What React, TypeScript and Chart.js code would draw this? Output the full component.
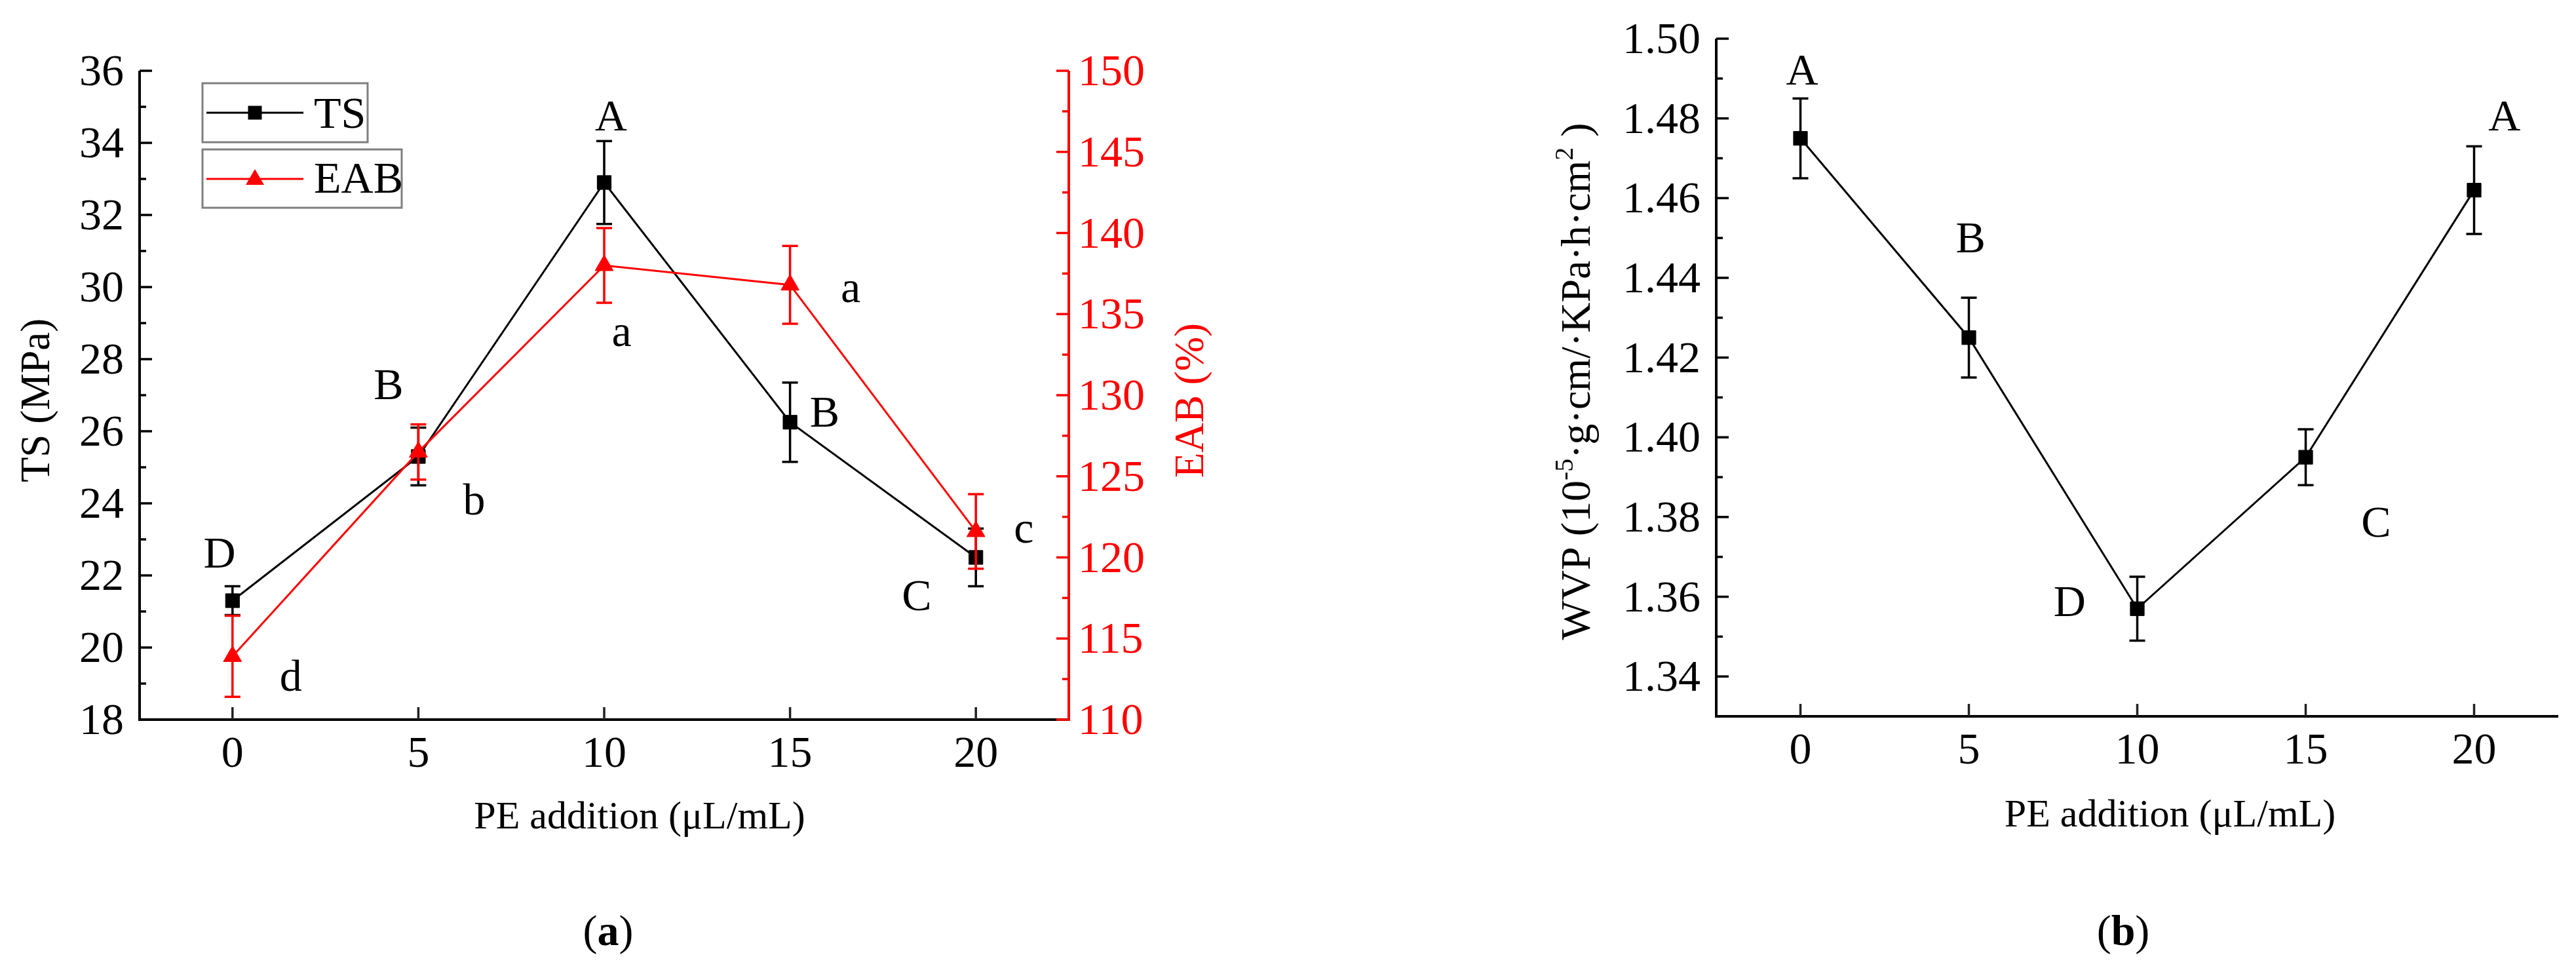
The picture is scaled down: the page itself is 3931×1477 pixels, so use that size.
import React, { useEffect, useRef } from "react";
import { Chart, registerables } from "chart.js";

Chart.register(...registerables);

// ---------------- data ----------------
const doses = [0, 5, 10, 15, 20];
const tsMean = [21.3, 25.3, 32.9, 26.25, 22.5];
const tsErr = [0.4, 0.8, 1.15, 1.1, 0.8];
const eabMean = [113.9, 126.5, 138.0, 136.8, 121.6];
const eabErr = [2.5, 1.7, 2.3, 2.4, 2.3];
const wvpMean = [1.475, 1.425, 1.357, 1.395, 1.462];
const wvpErr = [0.01, 0.01, 0.008, 0.007, 0.011];

const xTicks = [0, 5, 10, 15, 20];
const tsTicks = [18, 20, 22, 24, 26, 28, 30, 32, 34, 36];
const eabTicks = [110, 115, 120, 125, 130, 135, 140, 145, 150];
const wvpTicks = [1.34, 1.36, 1.38, 1.4, 1.42, 1.44, 1.46, 1.48, 1.5];

const tsLetters = ["D", "B", "A", "B", "C"];
const eabLetters = ["d", "b", "a", "a", "c"];
const wvpLetters = ["A", "B", "D", "C", "A"];
// letter anchors, in data units
const tsLetterX = [-0.35, 4.2, 10.18, 15.93, 18.41];
const tsLetterY = [22.62, 27.29, 34.76, 26.54, 21.45];
const eabLetterX = [1.57, 6.5, 10.47, 16.63, 21.29];
const eabLetterY = [112.67, 123.54, 133.68, 136.38, 121.53];
const wvpLetterX = [0.05, 5.05, 7.99, 17.09, 20.9];
const wvpLetterY = [1.4922, 1.4501, 1.3589, 1.3787, 1.4806];

const xTitle = "PE addition (\u03bcL/mL)";

// ---------------- styling ----------------
const FONT = "'Liberation Serif', 'Times New Roman', Times, serif";
const RED = "#ff0000";
const TICK_FS = 68;
const LETTER_FS = 68;
const TITLE_FS = 63;
const XTITLE_FS = 60;

const f = (size: number, bold = false) => `${bold ? "bold " : ""}${size}px ${FONT}`;

type Seg = { t: string; size: number; bold?: boolean; dy?: number };

function drawRich(ctx: CanvasRenderingContext2D, segs: Seg[], cx: number, baseline: number) {
  let w = 0;
  for (const s of segs) {
    ctx.font = f(s.size, s.bold);
    w += ctx.measureText(s.t).width;
  }
  let x = cx - w / 2;
  ctx.textAlign = "left";
  ctx.textBaseline = "alphabetic";
  for (const s of segs) {
    ctx.font = f(s.size, s.bold);
    ctx.fillText(s.t, x, baseline + (s.dy || 0));
    x += ctx.measureText(s.t).width;
  }
}

function drawRotatedTitle(ctx: CanvasRenderingContext2D, segs: Seg[], cx: number, cy: number, color: string, capSize: number) {
  ctx.save();
  ctx.fillStyle = color;
  ctx.translate(cx, cy);
  ctx.rotate(-Math.PI / 2);
  drawRich(ctx, segs, 0, capSize * 0.33);
  ctx.restore();
}

function drawXAxis(ctx: CanvasRenderingContext2D, sx: any, ca: any) {
  ctx.save();
  ctx.strokeStyle = "#000";
  ctx.lineWidth = 4;
  ctx.beginPath();
  ctx.moveTo(ca.left - 2, ca.bottom);
  ctx.lineTo(ca.right, ca.bottom);
  ctx.stroke();
  ctx.lineWidth = 3.5;
  ctx.strokeStyle = "#222";
  ctx.fillStyle = "#000";
  ctx.font = f(TICK_FS);
  ctx.textAlign = "center";
  ctx.textBaseline = "alphabetic";
  for (const v of xTicks) {
    const x = sx.getPixelForValue(v);
    ctx.beginPath();
    ctx.moveTo(x, ca.bottom);
    ctx.lineTo(x, ca.bottom - 19);
    ctx.stroke();
    ctx.fillText(String(v), x, ca.bottom + 72);
  }
  ctx.restore();
}

function drawYAxis(
  ctx: CanvasRenderingContext2D,
  sy: any,
  xPix: number,
  ca: any,
  ticks: number[],
  color: string,
  side: "left" | "right",
  fmt: (v: number) => string
) {
  const dir = side === "left" ? 1 : -1;
  ctx.save();
  ctx.strokeStyle = color;
  ctx.lineWidth = 4;
  ctx.beginPath();
  ctx.moveTo(xPix, ca.top);
  ctx.lineTo(xPix, ca.bottom + 2);
  ctx.stroke();
  ctx.lineWidth = 3.5;
  for (let i = 0; i < ticks.length; i++) {
    const y = sy.getPixelForValue(ticks[i]);
    ctx.beginPath();
    ctx.moveTo(xPix, y);
    ctx.lineTo(xPix + dir * 19, y);
    ctx.stroke();
    if (i < ticks.length - 1) {
      const ym = sy.getPixelForValue((ticks[i] + ticks[i + 1]) / 2);
      ctx.beginPath();
      ctx.moveTo(xPix, ym);
      ctx.lineTo(xPix + dir * 10, ym);
      ctx.stroke();
    }
  }
  ctx.fillStyle = color;
  ctx.font = f(TICK_FS);
  ctx.textBaseline = "alphabetic";
  ctx.textAlign = side === "left" ? "right" : "left";
  for (const v of ticks) {
    const y = sy.getPixelForValue(v);
    ctx.fillText(fmt(v), side === "left" ? xPix - 24 : xPix + 14, y + 22);
  }
  ctx.restore();
}

function drawErrBars(ctx: CanvasRenderingContext2D, sx: any, sy: any, means: number[], errs: number[], color: string) {
  ctx.save();
  ctx.strokeStyle = color;
  ctx.lineWidth = 3.5;
  for (let i = 0; i < doses.length; i++) {
    const x = sx.getPixelForValue(doses[i]);
    const yt = sy.getPixelForValue(means[i] + errs[i]);
    const yb = sy.getPixelForValue(means[i] - errs[i]);
    ctx.beginPath();
    ctx.moveTo(x, yt);
    ctx.lineTo(x, yb);
    ctx.moveTo(x - 12, yt);
    ctx.lineTo(x + 12, yt);
    ctx.moveTo(x - 12, yb);
    ctx.lineTo(x + 12, yb);
    ctx.stroke();
  }
  ctx.restore();
}

function drawLetters(ctx: CanvasRenderingContext2D, sx: any, sy: any, letters: string[], xs: number[], ys: number[]) {
  ctx.save();
  ctx.fillStyle = "#000";
  ctx.font = f(LETTER_FS);
  ctx.textAlign = "center";
  ctx.textBaseline = "alphabetic";
  for (let i = 0; i < letters.length; i++) {
    const L = letters[i];
    const tall = /[A-Zbd]/.test(L);
    const x = sx.getPixelForValue(xs[i]);
    const y = sy.getPixelForValue(ys[i]);
    ctx.fillText(L, x, y + LETTER_FS * (tall ? 0.33 : 0.23));
  }
  ctx.restore();
}

function caption(ctx: CanvasRenderingContext2D, letter: string, cx: number, baseline: number) {
  ctx.save();
  ctx.fillStyle = "#000";
  drawRich(
    ctx,
    [
      { t: "(", size: 66 },
      { t: letter, size: 66, bold: true },
      { t: ")", size: 66 },
    ],
    cx,
    baseline
  );
  ctx.restore();
}

// ---------------- plugins ----------------
const decorA = {
  id: "decorA",
  beforeDatasetsDraw(chart: any) {
    const { ctx, chartArea: ca, scales } = chart;
    drawXAxis(ctx, scales.x, ca);
    drawYAxis(ctx, scales.y, ca.left, ca, tsTicks, "#000", "left", (v) => String(v));
    drawYAxis(ctx, scales.y1, ca.right, ca, eabTicks, RED, "right", (v) => String(v));
  },
  afterDatasetDraw(chart: any, args: any) {
    const { ctx, scales } = chart;
    if (args.index === 0) drawErrBars(ctx, scales.x, scales.y, tsMean, tsErr, "#000");
    if (args.index === 1) drawErrBars(ctx, scales.x, scales.y1, eabMean, eabErr, RED);
  },
  afterDraw(chart: any) {
    const { ctx, chartArea: ca, scales } = chart;
    drawLetters(ctx, scales.x, scales.y, tsLetters, tsLetterX, tsLetterY);
    drawLetters(ctx, scales.x, scales.y1, eabLetters, eabLetterX, eabLetterY);

    // axis titles
    ctx.save();
    ctx.fillStyle = "#000";
    ctx.font = f(XTITLE_FS);
    ctx.textAlign = "center";
    ctx.textBaseline = "alphabetic";
    ctx.fillText(xTitle, (ca.left + ca.right) / 2 + 54, ca.bottom + 166);
    ctx.restore();
    const cy = (ca.top + ca.bottom) / 2 + 8;
    drawRotatedTitle(ctx, [{ t: "TS (MPa)", size: TITLE_FS }], ca.left - 159, cy, "#000", TITLE_FS);
    drawRotatedTitle(ctx, [{ t: "EAB (%)", size: TITLE_FS }], ca.right + 184, cy, RED, TITLE_FS);

    // legend
    const lx = ca.left + 96;
    const ly = ca.top + 19;
    ctx.save();
    ctx.strokeStyle = "#7f7f7f";
    ctx.lineWidth = 3;
    ctx.strokeRect(lx, ly, 252, 90);
    ctx.strokeRect(lx, ly + 101, 304, 89);
    // TS entry
    const y1 = ly + 45;
    ctx.strokeStyle = "#000";
    ctx.lineWidth = 3;
    ctx.beginPath();
    ctx.moveTo(lx + 6, y1);
    ctx.lineTo(lx + 154, y1);
    ctx.stroke();
    ctx.fillStyle = "#000";
    ctx.fillRect(lx + 80 - 10.5, y1 - 10.5, 21, 21);
    // EAB entry
    const y2 = ly + 146;
    ctx.strokeStyle = RED;
    ctx.beginPath();
    ctx.moveTo(lx + 6, y2);
    ctx.lineTo(lx + 154, y2);
    ctx.stroke();
    ctx.fillStyle = RED;
    ctx.beginPath();
    ctx.moveTo(lx + 80, y2 - 15);
    ctx.lineTo(lx + 80 + 14, y2 + 9);
    ctx.lineTo(lx + 80 - 14, y2 + 9);
    ctx.closePath();
    ctx.fill();
    ctx.fillStyle = "#000";
    ctx.font = f(LETTER_FS);
    ctx.textAlign = "left";
    ctx.textBaseline = "alphabetic";
    ctx.fillText("TS", lx + 170, y1 + 23);
    ctx.fillText("EAB", lx + 170, y2 + 21);
    ctx.restore();

    caption(ctx, "a", 928, 1442);
  },
};

const decorB = {
  id: "decorB",
  beforeDatasetsDraw(chart: any) {
    const { ctx, chartArea: ca, scales } = chart;
    drawXAxis(ctx, scales.x, ca);
    drawYAxis(ctx, scales.y, ca.left, ca, wvpTicks, "#000", "left", (v) => v.toFixed(2));
  },
  afterDatasetDraw(chart: any, args: any) {
    const { ctx, scales } = chart;
    if (args.index === 0) drawErrBars(ctx, scales.x, scales.y, wvpMean, wvpErr, "#000");
  },
  afterDraw(chart: any) {
    const { ctx, chartArea: ca, scales } = chart;
    drawLetters(ctx, scales.x, scales.y, wvpLetters, wvpLetterX, wvpLetterY);
    ctx.save();
    ctx.fillStyle = "#000";
    ctx.font = f(XTITLE_FS);
    ctx.textAlign = "center";
    ctx.textBaseline = "alphabetic";
    ctx.fillText(xTitle, (ca.left + ca.right) / 2 + 50, ca.bottom + 168);
    ctx.restore();
    const big = 64;
    const sm = 40;
    drawRotatedTitle(
      ctx,
      [
        { t: "WVP (10", size: big },
        { t: "-5", size: sm, dy: -26 },
        { t: "\u00b7g\u00b7cm/\u00b7KPa\u00b7h\u00b7cm", size: big },
        { t: "2", size: sm, dy: -26 },
        { t: " )", size: big },
      ],
      ca.left - 214,
      (ca.top + ca.bottom) / 2 + 6,
      "#000",
      big
    );
    caption(ctx, "b", 3240 - 1965, 1442);
  },
};

function makeLineDs(means: number[], color: string, style: string, radius: number, axis: string, order: number, label: string) {
  return {
    label,
    data: doses.map((x, i) => ({ x, y: means[i] })),
    yAxisID: axis,
    borderColor: color,
    backgroundColor: color,
    borderWidth: 3,
    pointStyle: style,
    pointRadius: radius,
    pointBorderWidth: 1,
    pointBorderColor: color,
    pointBackgroundColor: color,
    tension: 0,
    order,
    clip: false,
  };
}

export default function App() {
  const refA = useRef<HTMLCanvasElement | null>(null);
  const refB = useRef<HTMLCanvasElement | null>(null);

  useEffect(() => {
    const common = {
      animation: false,
      responsive: false,
      maintainAspectRatio: false,
      devicePixelRatio: 1,
      events: [],
      plugins: { legend: { display: false }, tooltip: { enabled: false } },
    };
    const chartA = new Chart(refA.current as HTMLCanvasElement, {
      type: "line",
      data: {
        datasets: [
          makeLineDs(tsMean, "#000", "rect", 15, "y", 1, "TS") as any,
          makeLineDs(eabMean, RED, "triangle", 16, "y1", 0, "EAB") as any,
        ],
      },
      options: {
        ...(common as any),
        layout: { padding: { left: 213, right: 1965 - 1631, top: 108, bottom: 1477 - 1098 } },
        scales: {
          x: { type: "linear", min: -2.5, max: 22.5, display: false },
          y: { type: "linear", min: 18, max: 36, display: false },
          y1: { type: "linear", min: 110, max: 150, display: false, position: "right" },
        },
      },
      plugins: [decorA as any],
    });
    const chartB = new Chart(refB.current as HTMLCanvasElement, {
      type: "line",
      data: {
        datasets: [makeLineDs(wvpMean, "#000", "rect", 15, "y", 0, "WVP") as any],
      },
      options: {
        ...(common as any),
        layout: { padding: { left: 2619 - 1965, right: 3931 - 3904, top: 59, bottom: 1477 - 1093 } },
        scales: {
          x: { type: "linear", min: -2.5, max: 22.5, display: false },
          y: { type: "linear", min: 1.33, max: 1.5, display: false },
        },
      },
      plugins: [decorB as any],
    });
    return () => {
      chartA.destroy();
      chartB.destroy();
    };
  }, []);

  return (
    <div style={{ position: "absolute", left: 0, top: 0, width: 3931, height: 1477, background: "#fff" }}>
      <canvas ref={refA} width={1965} height={1477} style={{ position: "absolute", left: 0, top: 0 }} />
      <canvas ref={refB} width={1966} height={1477} style={{ position: "absolute", left: 1965, top: 0 }} />
    </div>
  );
}
